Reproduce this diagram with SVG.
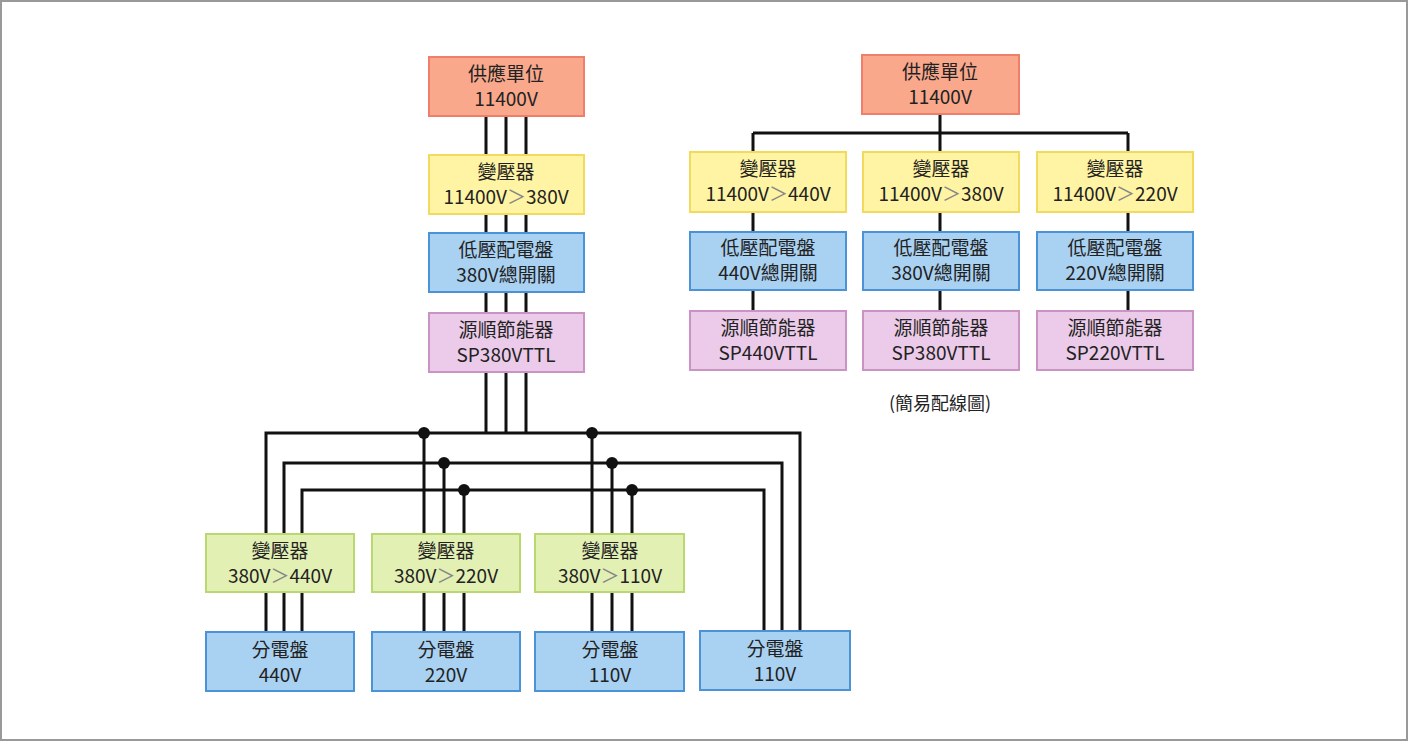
<svg xmlns="http://www.w3.org/2000/svg" width="1408" height="741" viewBox="0 0 1408 741">
<style>
text{font-family:"Noto Sans CJK TC","Noto Sans CJK SC",sans-serif;font-size:19px;fill:#222;text-anchor:middle}
.g{fill:#888}
.o{fill:#f9a88c;stroke:#ef7f6a;stroke-width:2}
.y{fill:#fff4a3;stroke:#f2da5e;stroke-width:2}
.b{fill:#a9d1f2;stroke:#4b92d6;stroke-width:2}
.p{fill:#ebcbe9;stroke:#c993c4;stroke-width:2}
.gr{fill:#e2f0b4;stroke:#b9d872;stroke-width:2}
.w{stroke:#111;stroke-width:3;fill:none}
</style>
<rect x="1" y="1" width="1406" height="739" fill="#fff" stroke="#999" stroke-width="2"/>
<g id="connectors" class="w">
<path d="M486 116V433M506 116V433M526 116V433"/>
<path d="M266 535V433H800V632M284 535V463H782V632M302 535V490H764V632"/>
<path d="M424 433V535M444 463V535M464 490V535M592 433V535M612 463V535M632 490V535"/>
<path d="M266 592V632M284 592V632M302 592V632M424 592V632M444 592V632M464 592V632M592 592V632M612 592V632M632 592V632"/>
<path d="M940 114V133M753 133H1128M753 133V152M940 133V152M1128 133V152M753 212V232M940 212V232M1128 212V232M753 290V311M940 290V311M1128 290V311"/>
<g fill="#111" stroke="none"><circle cx="424" cy="433" r="6"/><circle cx="592" cy="433" r="6"/><circle cx="444" cy="463" r="6"/><circle cx="612" cy="463" r="6"/><circle cx="464" cy="490" r="6"/><circle cx="632" cy="490" r="6"/></g>
</g>
<g id="n1"><rect class="o" x="429" y="57" width="155" height="59"/><text x="506" y="81">供應單位<tspan x="506" dy="25">11400V</tspan></text></g>
<g id="n2"><rect class="y" x="429" y="155" width="155" height="59"/><text x="506" y="179">變壓器<tspan x="506" dy="25">11400V<tspan class="g">＞</tspan>380V</tspan></text></g>
<g id="n3"><rect class="b" x="429" y="233" width="155" height="59"/><text x="506" y="257">低壓配電盤<tspan x="506" dy="25">380V總開關</tspan></text></g>
<g id="n4"><rect class="p" x="429" y="313" width="155" height="59"/><text x="506" y="337">源順節能器<tspan x="506" dy="25">SP380VTTL</tspan></text></g>
<g id="t1"><rect class="gr" x="206" y="534" width="148" height="58"/><text x="280" y="558">變壓器<tspan x="280" dy="25">380V<tspan class="g">＞</tspan>440V</tspan></text></g>
<g id="t2"><rect class="gr" x="372" y="534" width="148" height="58"/><text x="446" y="558">變壓器<tspan x="446" dy="25">380V<tspan class="g">＞</tspan>220V</tspan></text></g>
<g id="t3"><rect class="gr" x="535" y="534" width="149" height="58"/><text x="610" y="558">變壓器<tspan x="610" dy="25">380V<tspan class="g">＞</tspan>110V</tspan></text></g>
<g id="d1"><rect class="b" x="206" y="632" width="148" height="59"/><text x="280" y="657">分電盤<tspan x="280" dy="25">440V</tspan></text></g>
<g id="d2"><rect class="b" x="372" y="632" width="148" height="59"/><text x="446" y="657">分電盤<tspan x="446" dy="25">220V</tspan></text></g>
<g id="d3"><rect class="b" x="535" y="632" width="149" height="59"/><text x="610" y="657">分電盤<tspan x="610" dy="25">110V</tspan></text></g>
<g id="d4"><rect class="b" x="700" y="631" width="150" height="59"/><text x="775" y="656">分電盤<tspan x="775" dy="25">110V</tspan></text></g>
<g id="r1"><rect class="o" x="862" y="55" width="157" height="59"/><text x="940" y="79">供應單位<tspan x="940" dy="25">11400V</tspan></text></g>
<g id="ry1"><rect class="y" x="690" y="152" width="156" height="60"/><text x="768" y="176">變壓器<tspan x="768" dy="25">11400V<tspan class="g">＞</tspan>440V</tspan></text></g>
<g id="ry2"><rect class="y" x="863" y="152" width="156" height="60"/><text x="941" y="176">變壓器<tspan x="941" dy="25">11400V<tspan class="g">＞</tspan>380V</tspan></text></g>
<g id="ry3"><rect class="y" x="1037" y="152" width="156" height="60"/><text x="1115" y="176">變壓器<tspan x="1115" dy="25">11400V<tspan class="g">＞</tspan>220V</tspan></text></g>
<g id="rb1"><rect class="b" x="690" y="232" width="156" height="58"/><text x="768" y="255">低壓配電盤<tspan x="768" dy="25">440V總開關</tspan></text></g>
<g id="rb2"><rect class="b" x="863" y="232" width="156" height="58"/><text x="941" y="255">低壓配電盤<tspan x="941" dy="25">380V總開關</tspan></text></g>
<g id="rb3"><rect class="b" x="1037" y="232" width="156" height="58"/><text x="1115" y="255">低壓配電盤<tspan x="1115" dy="25">220V總開關</tspan></text></g>
<g id="rp1"><rect class="p" x="690" y="311" width="156" height="59"/><text x="768" y="335">源順節能器<tspan x="768" dy="25">SP440VTTL</tspan></text></g>
<g id="rp2"><rect class="p" x="863" y="311" width="156" height="59"/><text x="941" y="335">源順節能器<tspan x="941" dy="25">SP380VTTL</tspan></text></g>
<g id="rp3"><rect class="p" x="1037" y="311" width="156" height="59"/><text x="1115" y="335">源順節能器<tspan x="1115" dy="25">SP220VTTL</tspan></text></g>
<text x="940" y="410" style="font-size:18px">(簡易配線圖)</text>
</svg>
